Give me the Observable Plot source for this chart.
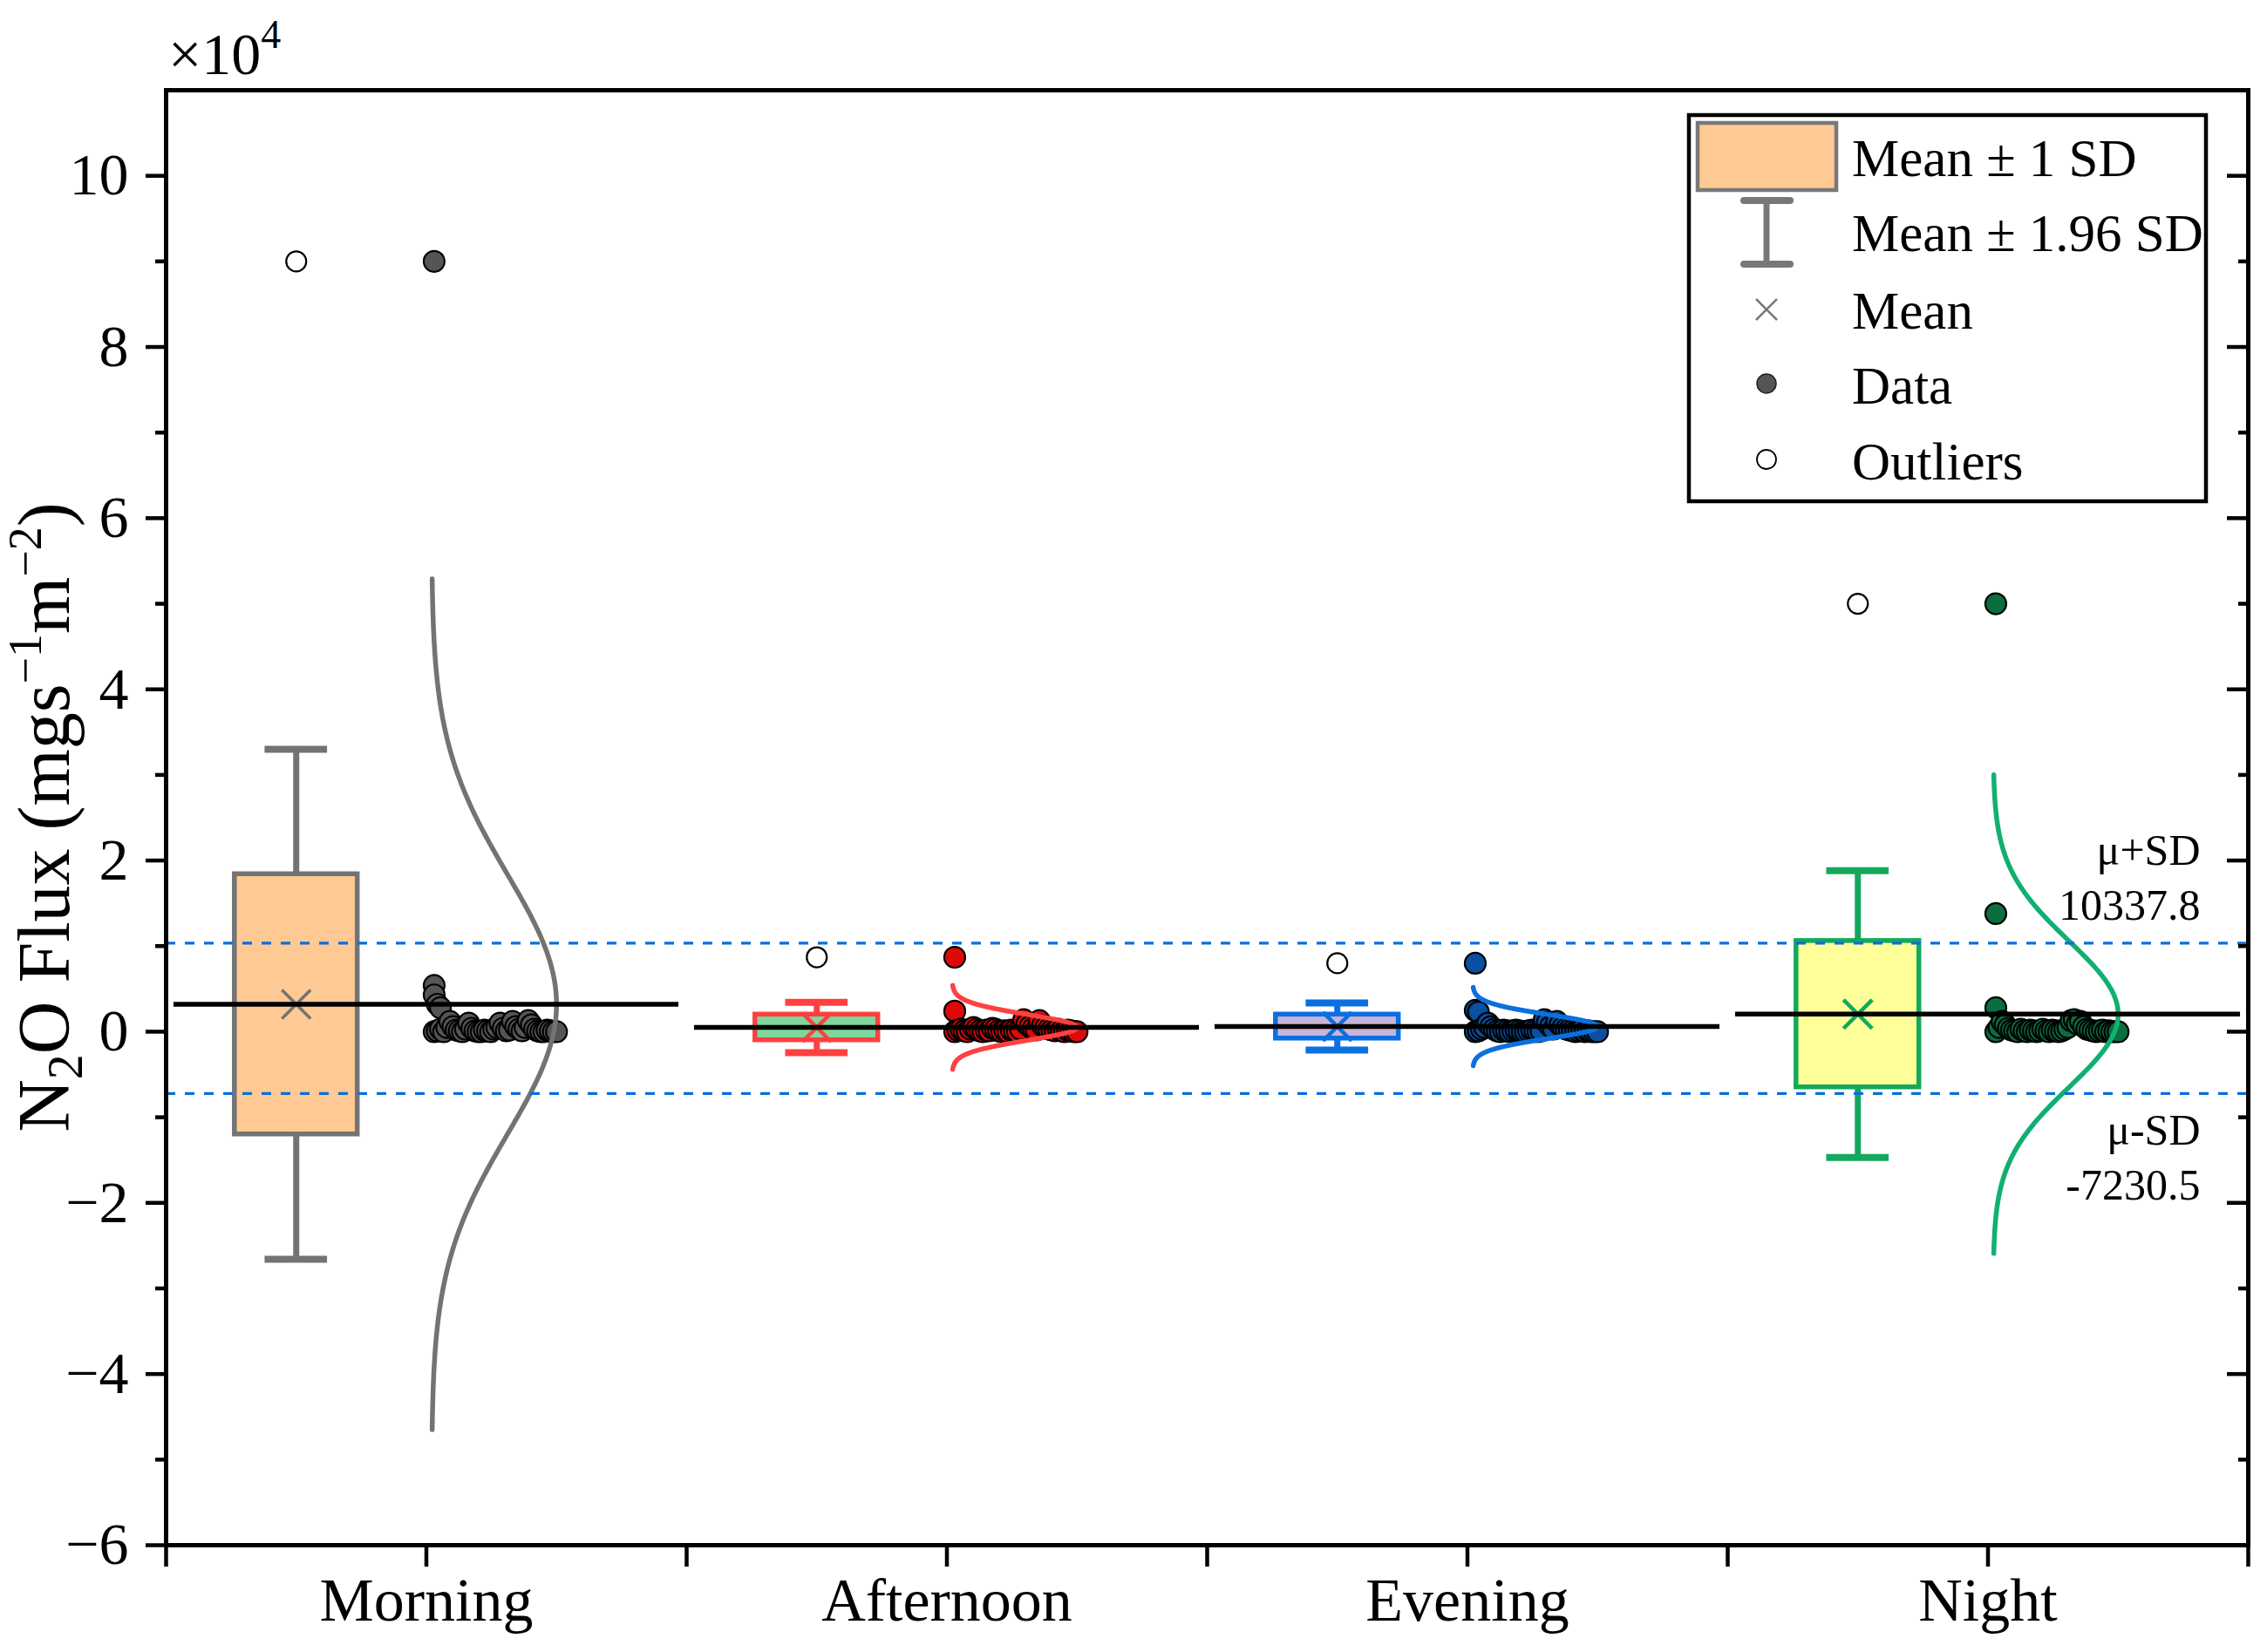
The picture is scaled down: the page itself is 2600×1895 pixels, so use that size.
<!DOCTYPE html>
<html>
<head>
<meta charset="utf-8">
<script src="https://cdn.jsdelivr.net/npm/d3@7"></script>
<script src="https://cdn.jsdelivr.net/npm/@observablehq/plot@0.6"></script>
<style>
  html, body { margin: 0; padding: 0; background: #ffffff; }
</style>
</head>
<body>
<div id="chart"></div>
<script>
// ---------- data (raw units, mg s^-1 m^-2) ----------
const groups = ["Morning", "Afternoon", "Evening", "Night"];
const means = [3200, 500, 600, 2050];
const sds = [15200, 1500, 1400, 8550];
const outliers = [90000, 8700, 8000, 50000];
const muPlusSD = 10337.8;
const muMinusSD = -7230.5;

const morningData = [90000, 5400, 4300, 3200, 2800,
  0, 100, 300, 0, 500, 1200, 600, 200, 100, 0, 300, 1000, 400, 100, 0, 0, 200, 100, 0, 300,
  500, 1000, 400, 100, 200, 1200, 600, 300, 100, 500, 1300, 800, 300, 100, 0, 0, 200, 100, 0, 0];
const afternoonData = [8700, 2400,
  0, 200, 300, 100, 0, 300, 500, 300, 100, 0, 200, 100, 400, 300, 100, 0, 100, 0, 200, 100,
  0, 300, 1400, 900, 600, 400, 200, 1300, 700, 500, 300, 200, 100, 300, 100, 0, 200, 100, 0, 0];
const eveningData = [8000, 2500, 2300,
  0, 100, 300, 500, 1000, 600, 300, 100, 0, 200, 100, 0, 100, 200, 100, 0, 0, 100, 200, 100,
  0, 100, 1400, 1100, 600, 300, 1200, 800, 500, 300, 200, 100, 0, 100, 200, 0, 100, 0, 0, 0];
const nightData = [50000, 13800, 2800,
  0, 500, 1200, 800, 400, 200, 100, 0, 300, 100, 0, 200, 100, 0, 100, 300, 100, 0, 200, 100,
  0, 100, 300, 500, 1300, 1400, 900, 1200, 600, 300, 200, 100, 0, 100, 200, 0, 100, 0, 0, 0];
const groupData = [morningData, afternoonData, eveningData, nightData];

const yMajorTicks = [-60000, -40000, -20000, 0, 20000, 40000, 60000, 80000, 100000];
const yMinorTicks = [-50000, -30000, -10000, 10000, 30000, 50000, 70000, 90000];

// ---------- styles ----------
const boxFills = ["#FFC994", "#7FD89B", "#C8B4D8", "#FFFF99"];
const boxStrokes = ["#737373", "#FF4040", "#0A70E0", "#14A85C"];
const pointFills = ["#555555", "#DD0A0A", "#0A4FA0", "#0A6E3E"];
const curveStrokes = ["#737373", "#FF4040", "#0A70E0", "#10B070"];

const W = 2600, H = 1895;
const mL = 190, mR = 22, mT = 103, mB = 123;
const bandPx = (W - mL - mR) / 4;
const FONT = "Liberation Serif, Times New Roman, serif";

// points table: Origin-like spreading of points within value bins
const binW = 3000;
const points = [];
groupData.forEach((vals, i) => {
  const counts = new Map();
  const js = vals.map(v => {
    const b = Math.round(v / binW);
    const j = counts.get(b) || 0;
    counts.set(b, j + 1);
    return j;
  });
  const maxC = d3.max([...counts.values()]);
  const step = 0.235 / Math.max(1, maxC - 1);
  vals.forEach((v, k) => points.push({i, v, x: i + 0.515 + js[k] * step}));
});

// fitted normal curves
const curves = groups.map((g, i) => d3.range(0, 241).map(k => {
  const z = -3.27 + 6.54 * k / 240;
  return {y: means[i] + z * sds[i], x: i + 0.51 + 0.24 * Math.exp(-z * z / 2)};
}));

const stats = groups.map((g, i) => ({i, g, mean: means[i], sd: sds[i], out: outliers[i]}));

const marks = [];
stats.forEach(s => {
  const c = s.i + 0.25;
  // whisker (mean ± 1.96 SD)
  marks.push(Plot.ruleX([s], {x: () => c, y1: d => d.mean - 1.96 * d.sd, y2: d => d.mean + 1.96 * d.sd,
    stroke: boxStrokes[s.i], strokeWidth: 7}));
  marks.push(Plot.ruleY([s], {y: d => d.mean + 1.96 * d.sd, x1: () => c - 0.06, x2: () => c + 0.06,
    stroke: boxStrokes[s.i], strokeWidth: 8}));
  marks.push(Plot.ruleY([s], {y: d => d.mean - 1.96 * d.sd, x1: () => c - 0.06, x2: () => c + 0.06,
    stroke: boxStrokes[s.i], strokeWidth: 8}));
  // box (mean ± 1 SD)
  marks.push(Plot.rect([s], {x1: () => c - 0.118, x2: () => c + 0.118, y1: d => d.mean - d.sd, y2: d => d.mean + d.sd,
    fill: boxFills[s.i], stroke: boxStrokes[s.i], strokeWidth: 5.5}));
  // mean marker
  marks.push(Plot.dot([s], {x: () => c, y: "mean", symbol: "times", r: 15,
    stroke: boxStrokes[s.i], strokeWidth: s.i === 0 ? 3.5 : 4.5}));
  // outlier
  marks.push(Plot.dot([s], {x: () => c, y: "out", r: 11.5, fill: "white", stroke: "black", strokeWidth: 2.2}));
  // data points
  marks.push(Plot.dot(points.filter(p => p.i === s.i), {x: "x", y: "v", r: 12,
    fill: pointFills[s.i], stroke: "black", strokeWidth: 2.2}));
  // normal curve
  marks.push(Plot.line(curves[s.i], {x: "x", y: "y", stroke: curveStrokes[s.i], strokeWidth: 5.5, curve: "linear"}));
  // mean line
  marks.push(Plot.ruleY([s], {y: "mean", x1: d => d.i + 0.015, x2: d => d.i + 0.985, stroke: "black", strokeWidth: 5.5}));
});

const chart = Plot.plot({
  width: W, height: H,
  marginLeft: mL, marginRight: mR, marginTop: mT, marginBottom: mB,
  style: {fontFamily: FONT, background: "white", color: "black"},
  x: {domain: [0, 4]},
  y: {domain: [-60000, 110000]},
  marks: [
    ...marks,
    Plot.ruleY([muPlusSD, muMinusSD], {stroke: "#0A6FDC", strokeWidth: 3.2, strokeDasharray: "11,11"}),
    Plot.text([muPlusSD], {y: d => d, x: () => 4, dx: -55, dy: -106, text: () => "μ+SD", textAnchor: "end", fontSize: 50, fill: "black"}),
    Plot.text([muPlusSD], {y: d => d, x: () => 4, dx: -55, dy: -43, text: d => String(d), textAnchor: "end", fontSize: 50, fill: "black"}),
    Plot.text([muMinusSD], {y: d => d, x: () => 4, dx: -55, dy: 43, text: () => "μ-SD", textAnchor: "end", fontSize: 50, fill: "black"}),
    Plot.text([muMinusSD], {y: d => d, x: () => 4, dx: -55, dy: 106, text: d => String(d), textAnchor: "end", fontSize: 50, fill: "black"}),
    // axes
    Plot.axisY(yMajorTicks, {anchor: "left", tickSize: 23, tickPadding: 20, strokeWidth: 4.5, fontSize: 68,
      tickFormat: d => (d < 0 ? "\u2212" : "") + Math.abs(d / 10000), label: null}),
    Plot.axisY(yMinorTicks, {anchor: "left", tickSize: 12, strokeWidth: 4.5, tickFormat: () => "", label: null}),
    Plot.ruleY(yMajorTicks, {x1: () => 4 - 24 / bandPx, x2: () => 4, stroke: "black", strokeWidth: 4.5}),
    Plot.ruleY(yMinorTicks, {x1: () => 4 - 11 / bandPx, x2: () => 4, stroke: "black", strokeWidth: 4.5}),
    Plot.axisX([0, 1, 2, 3, 4], {anchor: "bottom", tickSize: 25, strokeWidth: 4.5, tickFormat: () => "", label: null}),
    Plot.axisX([0.5, 1.5, 2.5, 3.5], {anchor: "bottom", tickSize: 25, tickPadding: 12, strokeWidth: 4.5, fontSize: 70,
      tickFormat: d => groups[Math.floor(d)], label: null}),
    Plot.frame({stroke: "black", strokeWidth: 5})
  ]
});

document.getElementById("chart").appendChild(chart);

// ---------- annotations drawn on the SVG ----------
const svg = d3.select(chart);

// y-axis title
const yt = svg.append("text")
  .attr("transform", `translate(79, ${(mT + (H - mB)) / 2}) rotate(-90)`)
  .attr("text-anchor", "middle")
  .attr("font-family", FONT)
  .attr("font-size", 84)
  .attr("fill", "black");
yt.append("tspan").text("N");
yt.append("tspan").attr("font-size", 58).attr("dy", 15).text("2");
yt.append("tspan").attr("dy", -15).text("O Flux (mgs");
yt.append("tspan").attr("font-size", 54).attr("dy", -32).text("\u22121");
yt.append("tspan").attr("dy", 32).text("m");
yt.append("tspan").attr("font-size", 54).attr("dy", -32).text("\u22122");
yt.append("tspan").attr("dy", 32).text(")");

// x10^4 multiplier
const mult = svg.append("text")
  .attr("x", 193).attr("y", 85).attr("text-anchor", "start")
  .attr("font-family", FONT).attr("font-size", 68).attr("fill", "black");
mult.append("tspan").text("\u00d710");
mult.append("tspan").attr("font-size", 46).attr("dy", -30).text("4");

// legend
const lg = svg.append("g").attr("font-family", FONT).attr("text-anchor", "start");
lg.append("rect").attr("x", 1937).attr("y", 132).attr("width", 593).attr("height", 443)
  .attr("fill", "white").attr("stroke", "black").attr("stroke-width", 4.5);
lg.append("rect").attr("x", 1947).attr("y", 141).attr("width", 159).attr("height", 77)
  .attr("fill", boxFills[0]).attr("stroke", "#787878").attr("stroke-width", 4.5);
lg.append("line").attr("x1", 2026).attr("x2", 2026).attr("y1", 230).attr("y2", 303)
  .attr("stroke", "#787878").attr("stroke-width", 7);
[230, 303].forEach(y => lg.append("line").attr("x1", 2000).attr("x2", 2053).attr("y1", y).attr("y2", y)
  .attr("stroke", "#787878").attr("stroke-width", 8).attr("stroke-linecap", "round"));
lg.append("path").attr("d", "M2014,343L2038,367M2038,343L2014,367")
  .attr("stroke", "#787878").attr("stroke-width", 2.5).attr("fill", "none");
lg.append("circle").attr("cx", 2026).attr("cy", 440).attr("r", 11)
  .attr("fill", "#555555").attr("stroke", "#222").attr("stroke-width", 1.5);
lg.append("circle").attr("cx", 2026).attr("cy", 527).attr("r", 11)
  .attr("fill", "white").attr("stroke", "black").attr("stroke-width", 1.8);
const legendTexts = ["Mean \u00b1 1 SD", "Mean \u00b1 1.96 SD", "Mean", "Data", "Outliers"];
const legendBase = [202, 288, 377, 463, 550];
legendTexts.forEach((t, k) => lg.append("text").attr("x", 2124).attr("y", legendBase[k])
  .attr("text-anchor", "start").attr("font-size", 61).attr("fill", "black").text(t));
</script>
</body>
</html>
